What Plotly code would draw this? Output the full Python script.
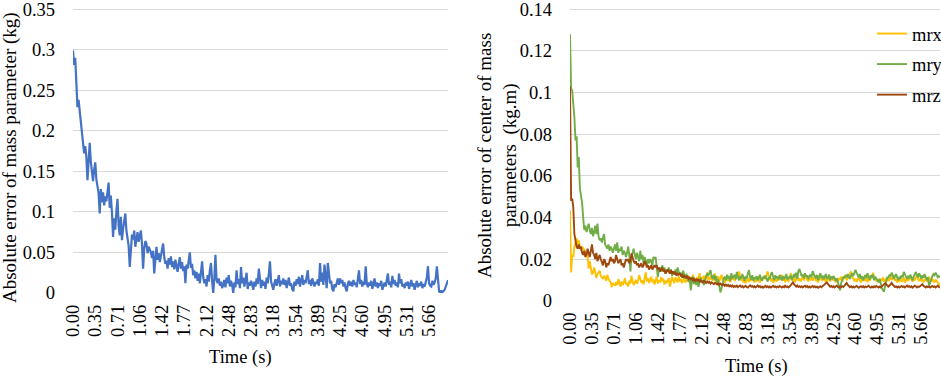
import plotly.graph_objects as go

# ---------------- data ----------------
tick_labels = ["0.00", "0.35", "0.71", "1.06", "1.42", "1.77", "2.12", "2.48", "2.83",
               "3.18", "3.54", "3.89", "4.25", "4.60", "4.95", "5.31", "5.66"]
tick_every = 20  # one label every 20 samples

mass_err = [
    0.299, 0.281, 0.29, 0.262, 0.229, 0.238, 0.225, 0.21, 0.197, 0.184,
    0.172, 0.181, 0.168, 0.139, 0.159, 0.185, 0.162, 0.147, 0.138, 0.152,
    0.161, 0.14, 0.131, 0.123, 0.098, 0.128, 0.112, 0.124, 0.108, 0.119,
    0.113, 0.127, 0.136, 0.105, 0.12, 0.099, 0.069, 0.092, 0.078, 0.101,
    0.116, 0.083, 0.071, 0.094, 0.065, 0.079, 0.088, 0.098, 0.077, 0.069,
    0.058, 0.032, 0.061, 0.072, 0.066, 0.077, 0.057, 0.07, 0.075, 0.063,
    0.072, 0.077, 0.06, 0.03, 0.055, 0.064, 0.061, 0.049, 0.057, 0.053,
    0.05, 0.043, 0.052, 0.024, 0.046, 0.057, 0.041, 0.049, 0.038, 0.046,
    0.052, 0.061, 0.044, 0.036, 0.04, 0.03, 0.043, 0.035, 0.045, 0.032,
    0.039, 0.029, 0.041, 0.034, 0.026, 0.036, 0.044, 0.03, 0.038, 0.027,
    0.033, 0.012, 0.035, 0.03, 0.04, 0.05, 0.031, 0.036, 0.022, 0.028,
    0.018, 0.026, 0.015, 0.024, 0.012, 0.028, 0.039, 0.02, 0.012, 0.017,
    0.008, 0.022, 0.014, 0.028, 0.037, 0.015, 0.0, 0.018, 0.047, 0.016,
    0.012, 0.018, 0.009, 0.014, 0.006, 0.01, 0.016, 0.007, 0.019, 0.012,
    0.022, 0.008, 0.015, 0.01, 0.0, 0.013, 0.007, 0.028, 0.011, 0.017,
    0.006, 0.032, 0.012, 0.019, 0.008, 0.016, 0.025, 0.005, 0.013, 0.009,
    0.015, 0.011, 0.004, 0.014, 0.008, 0.018, 0.011, 0.03, 0.012, 0.006,
    0.016, 0.009, 0.014, 0.005, 0.019, 0.012, 0.024, 0.039, 0.014, 0.008,
    0.004, 0.012, 0.017, 0.009, 0.014, 0.022, 0.008, 0.015, 0.011, 0.018,
    0.01, 0.016, 0.006, 0.013, 0.019, 0.009, 0.012, 0.005, 0.002, 0.014,
    0.009, 0.017, 0.011, 0.02, 0.008, 0.015, 0.022, 0.01, 0.016, 0.012,
    0.019, 0.028, 0.011, 0.016, 0.009, 0.018, 0.013, 0.008, 0.014, 0.011,
    0.017, 0.009, 0.037, 0.014, 0.025, 0.01, 0.035, 0.018, 0.006, 0.037,
    0.02, 0.012, 0.015, 0.005, 0.002, 0.011, 0.007, 0.013, 0.018, 0.01,
    0.018, 0.012, 0.016, 0.008, 0.013, 0.006, 0.002, 0.011, 0.015, 0.009,
    0.014, 0.008, 0.016, 0.01, 0.013, 0.007, 0.015, 0.028, 0.011, 0.016,
    0.008, 0.014, 0.01, 0.033, 0.012, 0.007, 0.013, 0.009, 0.015, 0.005,
    0.011, 0.018, 0.008, 0.013, 0.006, 0.012, 0.009, 0.015, 0.004, 0.01,
    0.013, 0.008, 0.016, 0.024, 0.01, 0.014, 0.007, 0.021, 0.011, 0.016,
    0.009, 0.013, 0.007, 0.024, 0.012, 0.017, 0.008, 0.011, 0.006, 0.013,
    0.009, 0.014, 0.005, 0.011, 0.016, 0.008, 0.012, 0.004, 0.01, 0.015,
    0.007, 0.012, 0.009, 0.014, 0.006, 0.011, 0.008, 0.013, 0.019, 0.033,
    0.012, 0.009, 0.008, 0.015, 0.01, 0.013, 0.018, 0.033, 0.014, 0.002,
    0.0, 0.003, 0.001, 0.002, 0.004, 0.008, 0.012, 0.016,
]

mrx = [
    0.0435, 0.0136, 0.022, 0.021, 0.026, 0.028, 0.03, 0.027, 0.029, 0.026,
    0.024, 0.026, 0.025, 0.024, 0.0235, 0.0227, 0.022, 0.0155, 0.019, 0.0144,
    0.0125, 0.0136, 0.016, 0.0136, 0.011, 0.0128, 0.0136, 0.0144, 0.012, 0.0112,
    0.0104, 0.012, 0.0112, 0.0095, 0.0125, 0.0105, 0.0096, 0.0088, 0.0064, 0.0085,
    0.0078, 0.0072, 0.009, 0.0075, 0.0104, 0.0082, 0.0068, 0.0092, 0.0075, 0.0088,
    0.0108, 0.0078, 0.0085, 0.0068, 0.0096, 0.0082, 0.012, 0.0094, 0.0075, 0.0088,
    0.01, 0.0082, 0.0096, 0.0123, 0.0105, 0.0086, 0.0097, 0.0078, 0.011, 0.0136,
    0.0092, 0.0108, 0.0085, 0.0099, 0.0115, 0.0088, 0.0102, 0.0078, 0.0095, 0.0116,
    0.0082, 0.0098, 0.0088, 0.0112, 0.0094, 0.0106, 0.0078, 0.0096, 0.0085, 0.01,
    0.0108, 0.0067, 0.009, 0.0115, 0.0098, 0.0084, 0.0112, 0.0102, 0.0088, 0.0118,
    0.0092, 0.0105, 0.0084, 0.0098, 0.0113, 0.0086, 0.0102, 0.0095, 0.0118, 0.0105,
    0.0112, 0.0097, 0.0125, 0.0088, 0.0108, 0.0094, 0.0114, 0.0102, 0.0132, 0.0098,
    0.0112, 0.0105, 0.012, 0.0092, 0.0112, 0.0135, 0.0098, 0.0114, 0.0102, 0.0122,
    0.0096, 0.0108, 0.0131, 0.0088, 0.0104, 0.0117, 0.0092, 0.0108, 0.0125, 0.0098,
    0.0112, 0.0086, 0.0106, 0.0118, 0.0094, 0.0108, 0.0089, 0.0122, 0.0101, 0.0112,
    0.0095, 0.0108, 0.0128, 0.0112, 0.0141, 0.0118, 0.0096, 0.0105, 0.0088, 0.0102,
    0.0084, 0.0098, 0.0112, 0.009, 0.0106, 0.0095, 0.0115, 0.0102, 0.0088, 0.0106,
    0.0092, 0.0118, 0.0104, 0.0087, 0.0112, 0.0098, 0.0108, 0.012, 0.0103, 0.0126,
    0.0141, 0.0115, 0.0102, 0.0094, 0.0108, 0.0086, 0.0099, 0.0112, 0.0091, 0.0105,
    0.0097, 0.0118, 0.0102, 0.0125, 0.0096, 0.0108, 0.0089, 0.0112, 0.0101, 0.0094,
    0.0106, 0.0132, 0.0109, 0.0095, 0.0112, 0.0088, 0.0104, 0.0118, 0.0096, 0.0108,
    0.0092, 0.0105, 0.0115, 0.0098, 0.0109, 0.0124, 0.0101, 0.0093, 0.0107, 0.0099,
    0.0112, 0.0096, 0.0108, 0.0121, 0.0094, 0.0105, 0.0088, 0.0114, 0.01, 0.0109,
    0.0095, 0.0118, 0.0103, 0.0089, 0.0111, 0.0098, 0.0107, 0.0092, 0.0116, 0.0102,
    0.0097, 0.0112, 0.0088, 0.0105, 0.0094, 0.0109, 0.0099, 0.0116, 0.0092, 0.0104,
    0.0112, 0.0125, 0.0098, 0.0108, 0.0119, 0.0132, 0.0141, 0.0115, 0.0102, 0.0094,
    0.0106, 0.0091, 0.0103, 0.0112, 0.0097, 0.0088, 0.0105, 0.0095, 0.011, 0.0098,
    0.0104, 0.0089, 0.0112, 0.0096, 0.0108, 0.0124, 0.0134, 0.0115, 0.0101, 0.0093,
    0.0106, 0.0098, 0.0087, 0.0104, 0.0095, 0.0112, 0.0091, 0.0102, 0.0096, 0.0108,
    0.0094, 0.0103, 0.0117, 0.0099, 0.0108, 0.0121, 0.0096, 0.0104, 0.0088, 0.0101,
    0.0095, 0.0109, 0.0092, 0.0098, 0.0112, 0.0087, 0.0103, 0.0094, 0.0106, 0.0099,
    0.0118, 0.0102, 0.0091, 0.0105, 0.0097, 0.0112, 0.0125, 0.0103, 0.0094, 0.0108,
    0.0096, 0.0101, 0.0088, 0.0099, 0.0107, 0.0093, 0.0102, 0.0115, 0.0098, 0.0091,
    0.0104, 0.0096, 0.0088, 0.0102, 0.0094, 0.0083, 0.0078, 0.0072,
]

mry = [
    0.128, 0.102, 0.101, 0.096, 0.088, 0.077, 0.079, 0.064, 0.069, 0.054,
    0.051, 0.047, 0.04, 0.034, 0.036, 0.033, 0.035, 0.037, 0.034, 0.032,
    0.035, 0.031, 0.033, 0.036, 0.032, 0.037, 0.031, 0.029, 0.03, 0.028,
    0.03, 0.032, 0.027, 0.026, 0.025, 0.027, 0.024, 0.026, 0.025, 0.023,
    0.025, 0.027, 0.024, 0.028, 0.023, 0.025, 0.024, 0.026, 0.022, 0.024,
    0.023, 0.021, 0.023, 0.026, 0.022, 0.014, 0.021, 0.023, 0.025, 0.022,
    0.02, 0.023, 0.021, 0.019, 0.024, 0.02, 0.022, 0.018, 0.021, 0.019,
    0.017, 0.02, 0.018, 0.02, 0.019, 0.017, 0.021, 0.02, 0.021, 0.016,
    0.0115, 0.015, 0.016, 0.014, 0.017, 0.015, 0.016, 0.013, 0.015, 0.014,
    0.016, 0.013, 0.015, 0.012, 0.014, 0.0125, 0.015, 0.013, 0.016, 0.014,
    0.0125, 0.0135, 0.011, 0.0145, 0.012, 0.0105, 0.013, 0.0115, 0.009, 0.0105,
    0.005, 0.009, 0.0115, 0.008, 0.0095, 0.0075, 0.0105, 0.0067, 0.009, 0.011,
    0.0085, 0.0098, 0.0075, 0.0105, 0.0118, 0.0128, 0.012, 0.0135, 0.0147, 0.0115,
    0.0105, 0.0125, 0.0098, 0.0118, 0.0085, 0.0102, 0.0065, 0.004, 0.0058, 0.0092,
    0.0108, 0.0115, 0.0098, 0.0125, 0.0106, 0.0118, 0.0094, 0.0132, 0.0108, 0.0115,
    0.0125, 0.0102, 0.0138, 0.0112, 0.0098, 0.0118, 0.0105, 0.0128, 0.0114, 0.0096,
    0.0118, 0.0108, 0.0132, 0.0147, 0.0115, 0.0101, 0.0122, 0.0095, 0.0112, 0.0104,
    0.0118, 0.0098, 0.0108, 0.0125, 0.0103, 0.0096, 0.0115, 0.0107, 0.0121, 0.0099,
    0.0092, 0.0112, 0.0104, 0.0128, 0.0137, 0.0115, 0.0098, 0.0122, 0.0108, 0.0116,
    0.0102, 0.0124, 0.0109, 0.0097, 0.0118, 0.0106, 0.0113, 0.0128, 0.0101, 0.0115,
    0.0108, 0.0122, 0.0098, 0.0118, 0.0128, 0.0112, 0.0135, 0.0105, 0.0142, 0.0152,
    0.0138, 0.0118, 0.0126, 0.0108, 0.0132, 0.0115, 0.0122, 0.0104, 0.0118, 0.0126,
    0.0112, 0.0142, 0.0128, 0.0115, 0.0108, 0.0124, 0.0098, 0.0118, 0.0132, 0.0109,
    0.0121, 0.0102, 0.0116, 0.0128, 0.0105, 0.0112, 0.0125, 0.0098, 0.0115, 0.0108,
    0.0119, 0.0102, 0.0094, 0.0108, 0.0088, 0.0072, 0.005, 0.0085, 0.0102, 0.0115,
    0.0108, 0.0122, 0.0112, 0.0128, 0.0116, 0.0105, 0.0121, 0.0132, 0.0118, 0.0138,
    0.0148, 0.0135, 0.0122, 0.0112, 0.0128, 0.0105, 0.0118, 0.0098, 0.0112, 0.0124,
    0.0108, 0.0132, 0.0115, 0.0101, 0.0122, 0.0109, 0.0126, 0.0098, 0.0115, 0.0104,
    0.0096, 0.0088, 0.0105, 0.0078, 0.0062, 0.005, 0.0043, 0.0072, 0.0098, 0.0114,
    0.0108, 0.0126, 0.0118, 0.0135, 0.0122, 0.0104, 0.0118, 0.0128, 0.0112, 0.0098,
    0.0115, 0.0105, 0.0122, 0.0112, 0.0138, 0.0128, 0.0116, 0.0104, 0.0119, 0.0108,
    0.0125, 0.0112, 0.0098, 0.0115, 0.0128, 0.0138, 0.0124, 0.0112, 0.0132, 0.0118,
    0.0105, 0.0122, 0.0109, 0.0128, 0.0115, 0.0098, 0.0112, 0.0072, 0.0085, 0.0104,
    0.0118, 0.0128, 0.0122, 0.0135, 0.0124, 0.0112, 0.0118, 0.0112,
]

mrz = [
    0.103, 0.048, 0.049, 0.045, 0.032, 0.028, 0.026, 0.025, 0.027, 0.025,
    0.026, 0.023, 0.022, 0.024, 0.021, 0.022, 0.025, 0.023, 0.021, 0.024,
    0.027, 0.023, 0.022, 0.02, 0.023, 0.019, 0.021, 0.022, 0.02, 0.018,
    0.017, 0.02, 0.019, 0.016, 0.018, 0.017, 0.019, 0.021, 0.019, 0.02,
    0.018, 0.019, 0.022, 0.02, 0.018, 0.019, 0.02, 0.017, 0.018, 0.016,
    0.018, 0.02, 0.019, 0.02, 0.018, 0.019, 0.0227, 0.02, 0.019, 0.018,
    0.019, 0.017, 0.018, 0.016, 0.017, 0.018, 0.016, 0.017, 0.019, 0.018,
    0.016, 0.017, 0.015, 0.016, 0.017, 0.015, 0.016, 0.017, 0.016, 0.017,
    0.015, 0.016, 0.014, 0.015, 0.016, 0.014, 0.015, 0.013, 0.014, 0.015,
    0.014, 0.013, 0.0147, 0.013, 0.014, 0.013, 0.0135, 0.012, 0.013, 0.0125,
    0.013, 0.012, 0.0125, 0.011, 0.012, 0.0115, 0.011, 0.012, 0.0105, 0.011,
    0.0102, 0.011, 0.0098, 0.0105, 0.0095, 0.0102, 0.0096, 0.0104, 0.0092, 0.0098,
    0.0094, 0.0088, 0.0096, 0.009, 0.0085, 0.0092, 0.0086, 0.009, 0.0082, 0.0088,
    0.0084, 0.0079, 0.0086, 0.0081, 0.0078, 0.0084, 0.0076, 0.0082, 0.0078, 0.0074,
    0.0079, 0.0072, 0.0077, 0.0071, 0.0076, 0.0069, 0.0074, 0.0068, 0.0073, 0.0066,
    0.0071, 0.0067, 0.0072, 0.0065, 0.0069, 0.0073, 0.0066, 0.007, 0.0064, 0.0068,
    0.0072, 0.0066, 0.0063, 0.0069, 0.0074, 0.0067, 0.0071, 0.0065, 0.0069, 0.0064,
    0.0068, 0.0073, 0.0066, 0.007, 0.0064, 0.0068, 0.0062, 0.0067, 0.0071, 0.0065,
    0.0069, 0.0064, 0.0068, 0.0063, 0.0067, 0.0072, 0.0066, 0.0069, 0.0064, 0.0068,
    0.0065, 0.0071, 0.0067, 0.0063, 0.0068, 0.0065, 0.0072, 0.0066, 0.0069, 0.0064,
    0.0068, 0.0074, 0.0082, 0.0088, 0.0079, 0.0072, 0.0068, 0.0073, 0.0066, 0.007,
    0.0065, 0.0069, 0.0064, 0.0068, 0.0072, 0.0066, 0.007, 0.0064, 0.0068, 0.0063,
    0.0067, 0.0071, 0.0065, 0.0069, 0.0064, 0.0067, 0.0062, 0.0066, 0.007, 0.0065,
    0.0069, 0.0073, 0.0078, 0.0084, 0.0088, 0.0079, 0.0072, 0.0067, 0.0071, 0.0065,
    0.0069, 0.0064, 0.0068, 0.0072, 0.0066, 0.0063, 0.0068, 0.0065, 0.007, 0.0066,
    0.0072, 0.0078, 0.0085, 0.0076, 0.007, 0.0065, 0.0069, 0.0064, 0.0068, 0.0063,
    0.0067, 0.0071, 0.0066, 0.0062, 0.0067, 0.007, 0.0065, 0.0069, 0.0064, 0.0068,
    0.0065, 0.0069, 0.0072, 0.0066, 0.0063, 0.0068, 0.0064, 0.0069, 0.0065, 0.0071,
    0.0067, 0.0063, 0.0068, 0.0064, 0.0069, 0.0073, 0.0078, 0.0084, 0.0079, 0.0072,
    0.0068, 0.0073, 0.0082, 0.0086, 0.0077, 0.007, 0.0066, 0.0069, 0.0064, 0.0068,
    0.0063, 0.0067, 0.0071, 0.0066, 0.0069, 0.0064, 0.0068, 0.0073, 0.0067, 0.007,
    0.0065, 0.0069, 0.0063, 0.0067, 0.0072, 0.0068, 0.0064, 0.0069, 0.0066, 0.007,
    0.0074, 0.0079, 0.0072, 0.0068, 0.0064, 0.0069, 0.0065, 0.0068, 0.0063, 0.0067,
    0.0071, 0.0066, 0.0069, 0.0064, 0.0068, 0.0072, 0.0066, 0.0063,
]

left_yticks = [0, 0.05, 0.1, 0.15, 0.2, 0.25, 0.3, 0.35]
left_ylabels = ["0", "0.05", "0.1", "0.15", "0.2", "0.25", "0.3", "0.35"]
right_yticks = [0, 0.02, 0.04, 0.06, 0.08, 0.1, 0.12, 0.14]
right_ylabels = ["0", "0.02", "0.04", "0.06", "0.08", "0.1", "0.12", "0.14"]

# ---------------- figure ----------------
W, H = 941, 378
FONT = "Liberation Serif"
FS = 18.5
FS_TITLE = 19
GRID = "#D9D9D9"

idx = list(range(len(mass_err)))
tickvals = [i * tick_every for i in range(len(tick_labels))]

fig = go.Figure()
fig.add_trace(go.Scatter(x=idx, y=mass_err, mode="lines", line=dict(color="#4472C4", width=2.2),
                         showlegend=False, xaxis="x", yaxis="y"))
for name, vals, col, grp in [("mrx", mrx, "#FFC000", "a"), ("mry", mry, "#70AD47", "b"),
                              ("mrz", mrz, "#9E480E", "c")]:
    fig.add_trace(go.Scatter(x=list(range(len(vals))), y=vals, mode="lines", name=name,
                             legendgroup=grp, line=dict(color=col, width=1.9),
                             xaxis="x2", yaxis="y2"))

def px_x(p):
    return p / W

def px_y(p):
    return 1 - p / H

tfont = dict(family=FONT, size=FS, color="black")
titlefont = dict(family=FONT, size=FS_TITLE, color="black")
xcommon = dict(tickvals=tickvals, ticktext=tick_labels, tickangle=-90, showgrid=False,
               zeroline=False, showline=False, ticks="", tickfont=tfont,
               ticklabelstandoff=7, automargin=False, ticklabeloverflow="allow")
ycommon = dict(showgrid=True, gridcolor=GRID, gridwidth=1, zeroline=False, showline=False, ticks="",
               tickfont=tfont, ticklabelstandoff=17, automargin=False, ticklabeloverflow="allow")

# small headroom above the top tick so its grid line is not clipped at the plot edge
fig.update_layout(
    width=W, height=H, margin=dict(l=0, r=0, t=0, b=0, autoexpand=False),
    paper_bgcolor="white", plot_bgcolor="white",
    font=tfont,
    xaxis=dict(domain=[px_x(73), px_x(448)], range=[0, len(mass_err) - 1], anchor="y", **xcommon),
    yaxis=dict(domain=[px_y(293), px_y(7.4)], range=[0, 0.352], tickvals=left_yticks,
               ticktext=left_ylabels, anchor="x", **ycommon),
    xaxis2=dict(domain=[px_x(570), px_x(940)], range=[0, len(mrx) - 1], anchor="y2", **xcommon),
    yaxis2=dict(domain=[px_y(300.7), px_y(7.6)], range=[0, 0.1408], tickvals=right_yticks,
                ticktext=right_ylabels, anchor="x2", **ycommon),
    legend=dict(x=px_x(872), xanchor="left", y=px_y(15), yanchor="top", bgcolor="rgba(0,0,0,0)",
                font=tfont, tracegroupgap=3.5, itemwidth=30),
    annotations=[
        dict(text="Absolute error of mass parameter (kg)", textangle=-90, x=px_x(10), y=px_y(158),
             xref="paper", yref="paper", xanchor="center", yanchor="middle", showarrow=False,
             font=titlefont),
        dict(text="Time (s)", x=px_x(240), y=px_y(357), xref="paper", yref="paper",
             xanchor="center", yanchor="middle", showarrow=False, font=tfont),
        dict(text="Absolute error of center of mass<br>parameters  (kg.m)", textangle=-90,
             x=px_x(498), y=px_y(155), xref="paper", yref="paper", xanchor="center",
             yanchor="middle", showarrow=False, font=titlefont),
        dict(text="Time (s)", x=px_x(756), y=px_y(366), xref="paper", yref="paper",
             xanchor="center", yanchor="middle", showarrow=False, font=tfont),
    ],
)

fig.write_html("out.html", config={"displayModeBar": False},
               post_script="document.body.style.margin='0';document.body.style.overflow='hidden';")
